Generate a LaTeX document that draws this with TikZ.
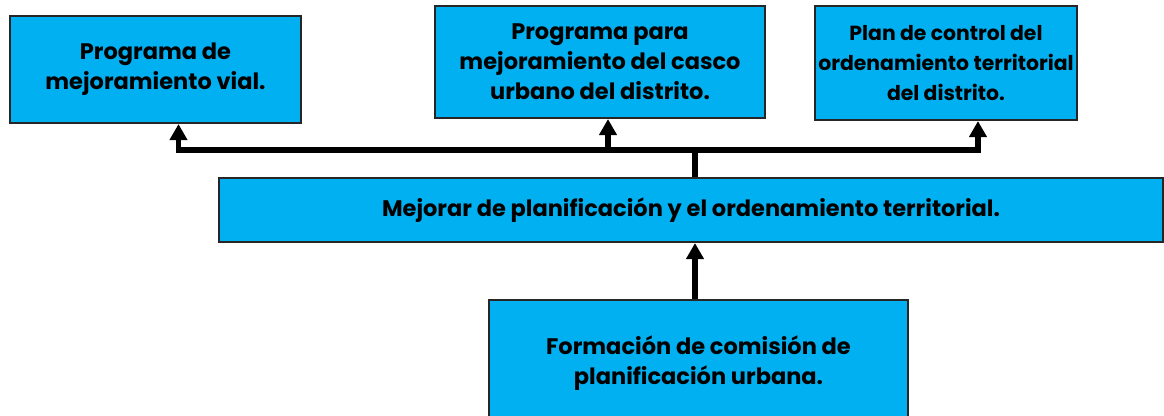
\documentclass[tikz,border=0pt]{standalone}
\usepackage{fontspec}
\setmainfont{Poppins}
\usepackage{tikz}
\usetikzlibrary{arrows.meta, positioning}
\definecolor{boxblue}{RGB}{0,176,240}
\tikzstyle{goal}=[rectangle, draw=black!85, fill=boxblue, line width=1.2pt, align=center, font=\bfseries\fontsize{12.8}{17}\selectfont]
\tikzstyle{link}=[line width=3pt, -{Triangle[width=0.34cm,length=0.32cm]}]

\begin{document}
\begin{tikzpicture}[x=0.02cm, y=-0.02cm]
      \useasboundingbox (0,0) rectangle (1164,416);
      \node[goal, minimum width=5.82cm, minimum height=2.14cm] (vial) at (155.5,69.5) {Programa de\\mejoramiento vial.};
	   \node[goal, minimum width=6.6cm, minimum height=2.24cm] (casco) at (600,62) {Programa para\\mejoramiento del casco\\urbano del distrito.};
	   \node[goal, minimum width=5.24cm, minimum height=2.28cm, inner xsep=1.5pt, font=\bfseries\fontsize{11.6}{17}\selectfont] (control) at (946,63) {Plan de control del\\ordenamiento territorial\\del distrito.};

	   \node[goal, minimum width=18.9cm, minimum height=1.28cm] (plan) at (691,210) {Mejorar de planificación y el ordenamiento territorial.};
	   \node[goal, minimum width=8.38cm, minimum height=2.52cm] (comision) at (698.5,363) {Formación de comisión de\\planificación urbana.};

      \coordinate (hub) at (695,150);
      \draw[line width=3pt] (plan.north -| hub) -- (hub);
      \draw[link] (hub) -| ([xshift=0.46cm]vial.south);
      \draw[link] (hub) -| ([xshift=0.16cm]casco.south);
      \draw[link] (hub) -| ([xshift=0.64cm]control.south);
      \draw[link] (comision.north -| hub) -- (plan.south -| hub);
  \end{tikzpicture}
\end{document}
